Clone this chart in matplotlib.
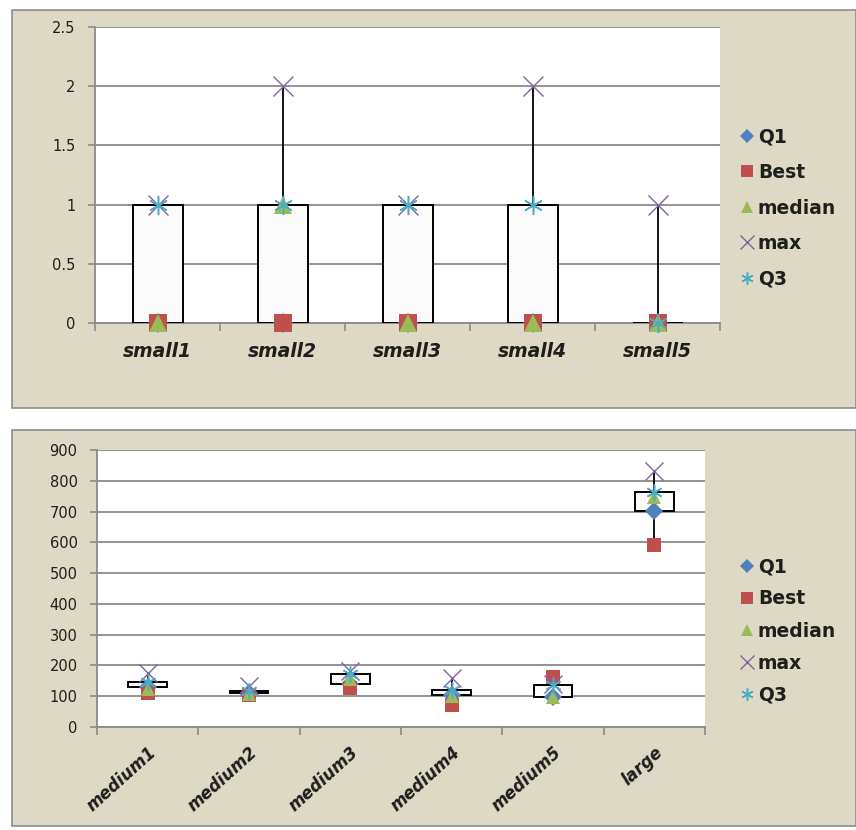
import matplotlib
matplotlib.use("Agg")
import matplotlib.pyplot as plt
from matplotlib.patches import Rectangle
from matplotlib.lines import Line2D
import numpy as np

plt.rcParams['font.family'] = ['DejaVu Sans']

# ---- data ----
small_cats = ["small1", "small2", "small3", "small4", "small5"]
small_q1 = [0, 0, 0, 0, 0]
small_best = [0, 0, 0, 0, 0]
small_median = [0, 1, 0, 0, 0]
small_max = [1, 2, 1, 2, 1]
small_q3 = [1, 1, 1, 1, 0]
small_yticks = [0, 0.5, 1, 1.5, 2, 2.5]
small_yticklabels = ["0", "0.5", "1", "1.5", "2", "2.5"]

big_cats = ["medium1", "medium2", "medium3", "medium4", "medium5", "large"]
big_q1 = [130, 110, 139, 104, 98, 702]
big_best = [110, 105, 128, 71, 161, 592]
big_median = [124, 108, 155, 101, 96, 746]
big_max = [176, 132, 183, 158, 140, 833]
big_q3 = [146, 118, 172, 120, 136, 764]
big_yticks = [0, 100, 200, 300, 400, 500, 600, 700, 800, 900]

series_names = ["Q1", "Best", "median", "max", "Q3"]
colors = {"Q1": "#4F81BD", "Best": "#C0504D", "median": "#9BBB59",
          "max": "#8064A2", "Q3": "#4BACC6"}
markers = {"Q1": "D", "Best": "s", "median": "^", "max": "x", "Q3": (6, 2, 0)}

W, H = 856, 830
fig = plt.figure(figsize=(W / 100, H / 100), dpi=100)
fig.patch.set_facecolor("white")

panel_bg = "#DDD9C4"
fig.add_artist(Rectangle((12 / W, 1 - 408 / H), (W - 12) / W, 398 / H,
                         transform=fig.transFigure, facecolor=panel_bg,
                         edgecolor="#8c8c8c", linewidth=1.2, zorder=0))
fig.add_artist(Rectangle((12 / W, 1 - 826 / H), (W - 12) / W, 396 / H,
                         transform=fig.transFigure, facecolor=panel_bg,
                         edgecolor="#8c8c8c", linewidth=1.2, zorder=0))

grid_col = "#8a8a8a"
text_col = "#1e1e1e"


def marker_kw(name, ms):
    kw = dict(color=colors[name], linestyle="none", marker=markers[name])
    if name == "max":
        kw.update(markersize=ms * 1.2, markeredgewidth=1.0)
    elif name == "Q3":
        kw.update(markersize=ms * 1.1, markeredgewidth=1.1)
    elif name == "Q1":
        kw.update(markersize=ms * 0.85, markeredgewidth=0)
    else:
        kw.update(markersize=ms, markeredgewidth=0)
    return kw


def draw(ax, cats, q1, best, med, mx, q3, yticks, ylabels, ylim, rot, msize, box_w):
    x = np.arange(len(cats))
    vals = np.array([q1, best, med, mx, q3], dtype=float)
    lo = vals.min(axis=0)
    hi = vals.max(axis=0)
    ax.set_facecolor("white")
    ax.vlines(x, lo, hi, colors="black", linewidth=1.3, zorder=2)
    bottoms = np.minimum(q1, q3)
    heights = np.abs(np.array(q3) - np.array(q1))
    ax.bar(x, heights, bottom=bottoms, width=box_w, facecolor="#fbfbfb",
           edgecolor="black", linewidth=1.4, zorder=3)
    data = {"Q1": q1, "Best": best, "median": med, "max": mx, "Q3": q3}
    for name in series_names:
        ax.plot(x, data[name], label=name, zorder=4, clip_on=False,
                **marker_kw(name, msize))
    ax.set_xlim(-0.5, len(cats) - 0.5)
    ax.set_ylim(*ylim)
    ax.set_yticks(yticks)
    ax.set_yticklabels(ylabels, fontsize=10.5, color=text_col)
    ax.yaxis.grid(True, color=grid_col, linewidth=1.3)
    ax.set_axisbelow(True)
    for s in ["top", "right"]:
        ax.spines[s].set_visible(False)
    for s in ["left", "bottom"]:
        ax.spines[s].set_color(grid_col)
        ax.spines[s].set_linewidth(1.3)
    ax.tick_params(axis="y", length=5, color=grid_col, width=1.2, pad=9)
    ax.set_xticks(x)
    ax.set_xticks(np.arange(len(cats) + 1) - 0.5, minor=True)
    ax.tick_params(axis="x", which="minor", length=6, color=grid_col, width=1.2)
    if rot == 0:
        ax.tick_params(axis="x", which="major", length=0, pad=14)
        ax.set_xticklabels(cats, fontsize=13.5, fontweight="bold", style="italic",
                           color=text_col)
    else:
        ax.tick_params(axis="x", which="major", length=0, pad=12)
        ax.set_xticklabels(cats, fontsize=12, fontweight="bold", style="italic",
                           rotation=rot, ha="right", rotation_mode="anchor",
                           color=text_col)


ax1 = fig.add_axes([95 / W, 1 - 323 / H, 625 / W, 296 / H])
draw(ax1, small_cats, small_q1, small_best, small_median, small_max, small_q3,
     small_yticks, small_yticklabels, (0, 2.5), 0, 12.5, 0.4)

ax2 = fig.add_axes([97 / W, 1 - 727 / H, 608 / W, 277 / H])
draw(ax2, big_cats, big_q1, big_best, big_median, big_max, big_q3,
     big_yticks, [str(v) for v in big_yticks], (0, 900), 42, 10.5, 0.38)


def legend_handles(ms):
    return [Line2D([], [], **marker_kw(name, ms)) for name in series_names]


leg1 = fig.legend(legend_handles(8), series_names, loc="center left",
                  bbox_to_anchor=(740 / W, 1 - 208 / H), frameon=False,
                  prop=dict(size=13.5, weight="bold"), handlelength=0.7,
                  handletextpad=0.25, labelspacing=0.88, borderaxespad=0,
                  borderpad=0)
leg2 = fig.legend(legend_handles(8), series_names, loc="center left",
                  bbox_to_anchor=(740 / W, 1 - 631 / H), frameon=False,
                  prop=dict(size=13.5, weight="bold"), handlelength=0.7,
                  handletextpad=0.25, labelspacing=0.7, borderaxespad=0,
                  borderpad=0)
for leg in (leg1, leg2):
    for t in leg.get_texts():
        t.set_color(text_col)

fig.savefig("out.png", dpi=100)
